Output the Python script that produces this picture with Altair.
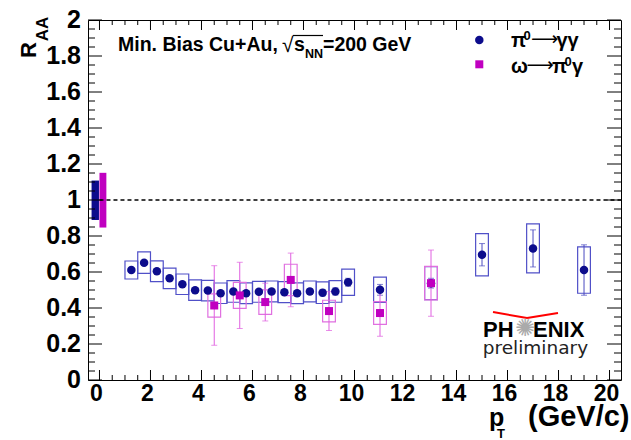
import altair as alt
import pandas as pd

# ---------------- data ----------------
pi0_pt = [1.25, 1.75, 2.25, 2.75, 3.25, 3.75, 4.25, 4.75, 5.25, 5.75, 6.25, 6.75,
          7.25, 7.75, 8.25, 8.75, 9.25, 9.75, 11, 13, 15, 17, 19]
pi0_raa = [0.611, 0.652, 0.604, 0.565, 0.532, 0.499, 0.497, 0.482, 0.492, 0.482, 0.490, 0.492,
           0.488, 0.482, 0.492, 0.485, 0.492, 0.543, 0.501, 0.538, 0.696, 0.731, 0.611]
pi0_stat = [0.008, 0.008, 0.008, 0.008, 0.008, 0.008, 0.009, 0.009, 0.010, 0.010, 0.011, 0.012,
            0.013, 0.014, 0.016, 0.018, 0.020, 0.022, 0.030, 0.027, 0.062, 0.103, 0.140]
pi0_sys = [0.050, 0.060, 0.058, 0.057, 0.057, 0.057, 0.057, 0.057, 0.060, 0.058, 0.058, 0.058,
           0.058, 0.058, 0.058, 0.060, 0.060, 0.073, 0.070, 0.092, 0.117, 0.136, 0.129]

omega_pt = [4.5, 5.5, 6.5, 7.5, 9.0, 11, 13]
omega_raa = [0.414, 0.470, 0.433, 0.556, 0.383, 0.372, 0.538]
omega_stat = [0.221, 0.184, 0.105, 0.149, 0.108, 0.129, 0.184]
omega_sys = [0.065, 0.072, 0.068, 0.087, 0.060, 0.063, 0.093]

bin_half = 0.25

norm_series = ["pi0", "omega"]
norm_x0 = [-0.31, 0.0]
norm_x1 = [-0.02, 0.27]
norm_lo = [0.889, 0.847]
norm_hi = [1.108, 1.151]

x_major = [0, 2, 4, 6, 8, 10, 12, 14, 16, 18, 20]
x_labels = ["0", "2", "4", "6", "8", "10", "12", "14", "16", "18", "20"]
y_major = [0, 0.2, 0.4, 0.6, 0.8, 1, 1.2, 1.4, 1.6, 1.8, 2]
y_labels = ["0", "0.2", "0.4", "0.6", "0.8", "1", "1.2", "1.4", "1.6", "1.8", "2"]
x_minor = [k * 0.5 for k in range(0, 41) if k % 4 != 0]
y_minor = [round(k * 0.05, 2) for k in range(0, 41) if k % 4 != 0]

# ---------------- style ----------------
W, H = 533, 360
FONT = "Liberation Sans"
NAVY = "#0c0c8c"
BLUE_BOX = "#5050c8"
BLUE_ERR = "#4a4ac0"
MAG = "#c000c0"
MAG_BOX = "#e070e0"
MAG_ERR = "#e060e0"

xscale = alt.Scale(domain=[-0.45, 20.45], nice=False, zero=False)
yscale = alt.Scale(domain=[0, 2], nice=False, zero=False)

df_pi0 = pd.DataFrame({"pt": pi0_pt, "raa": pi0_raa, "stat": pi0_stat, "sys": pi0_sys})
df_om = pd.DataFrame({"pt": omega_pt, "raa": omega_raa, "stat": omega_stat, "sys": omega_sys})
for d in (df_pi0, df_om):
    d["lo"] = d["raa"] - d["stat"]
    d["hi"] = d["raa"] + d["stat"]
    d["slo"] = d["raa"] - d["sys"]
    d["shi"] = d["raa"] + d["sys"]
    d["x0"] = d["pt"] - bin_half
    d["x1"] = d["pt"] + bin_half

df_norm = pd.DataFrame({"s": norm_series, "x0": norm_x0, "x1": norm_x1, "lo": norm_lo, "hi": norm_hi})


def X(f):
    return alt.X(f + ":Q", scale=xscale, axis=None)


def Y(f):
    return alt.Y(f + ":Q", scale=yscale, axis=None)


def sysbox(df, col):
    return alt.Chart(df).mark_rect(fillOpacity=0, stroke=col, strokeWidth=1.2).encode(
        x=X("x0"), x2="x1", y=Y("slo"), y2="shi")


def errbars(df, col):
    bar = alt.Chart(df).mark_rule(color=col, strokeWidth=1).encode(x=X("pt"), y=Y("lo"), y2="hi")
    cap1 = alt.Chart(df).mark_tick(color=col, orient="horizontal", size=6, thickness=1).encode(
        x=X("pt"), y=Y("lo"))
    cap2 = alt.Chart(df).mark_tick(color=col, orient="horizontal", size=6, thickness=1).encode(
        x=X("pt"), y=Y("hi"))
    return [bar, cap1, cap2]


norm = alt.Chart(df_norm).mark_rect().encode(
    x=X("x0"), x2="x1", y=Y("lo"), y2="hi",
    color=alt.Color("s:N", scale=alt.Scale(domain=["pi0", "omega"], range=[NAVY, MAG]), legend=None))

dash = alt.Chart(pd.DataFrame({"x": [0], "x2": [20.45], "y": [1]})).mark_rule(
    color="black", strokeDash=[4, 3], strokeWidth=1.3).encode(x=X("x"), x2="x2", y=Y("y"))

pts_pi0 = alt.Chart(df_pi0).mark_point(shape="circle", filled=True, size=72, color=NAVY, opacity=1).encode(
    x=X("pt"), y=Y("raa"))
pts_om = alt.Chart(df_om).mark_point(shape="square", filled=True, size=64, color=MAG, opacity=1).encode(
    x=X("pt"), y=Y("raa"))

# ---------------- ticks (ROOT style, inward) and tick labels ----------------
def yticks(vals, L, side):
    d = pd.DataFrame({"v": vals})
    if side == "left":
        return alt.Chart(d).mark_rule(color="black").encode(y=Y("v"), x=alt.value(0), x2=alt.value(L))
    return alt.Chart(d).mark_rule(color="black").encode(y=Y("v"), x=alt.value(W), x2=alt.value(W - L))


def xticks(vals, L, side):
    d = pd.DataFrame({"v": vals})
    if side == "bottom":
        return alt.Chart(d).mark_rule(color="black").encode(x=X("v"), y=alt.value(H), y2=alt.value(H - L))
    return alt.Chart(d).mark_rule(color="black").encode(x=X("v"), y=alt.value(0), y2=alt.value(L))


ticks = [yticks(y_major, 14, "left"), yticks(y_minor, 7, "left"),
         yticks(y_major, 14, "right"), yticks(y_minor, 7, "right"),
         xticks(x_major, 10, "bottom"), xticks(x_minor, 5, "bottom"),
         xticks(x_major, 10, "top"), xticks(x_minor, 5, "top")]

ylab = alt.Chart(pd.DataFrame({"v": y_major, "t": y_labels})).mark_text(
    align="right", baseline="middle", font=FONT, fontWeight="bold", fontSize=25, color="black").encode(
    y=Y("v"), x=alt.value(-7), text="t:N")
xlab = alt.Chart(pd.DataFrame({"v": x_major, "t": x_labels})).mark_text(
    align="center", baseline="top", font=FONT, fontWeight="bold", fontSize=23, color="black", dx=-3).encode(
    x=X("v"), y=alt.value(H + 3), text="t:N")

# ---------------- text ----------------
one = pd.DataFrame({"a": [0]})


def txt(s, x, y, size, weight="bold", font=FONT, color="black", align="left", baseline="alphabetic", angle=None):
    kw = dict(align=align, baseline=baseline, font=font, fontSize=size, fontWeight=weight, color=color, text=s)
    if angle is not None:
        kw["angle"] = angle
    return alt.Chart(one).mark_text(**kw).encode(x=alt.value(x), y=alt.value(y))


def seg(x1, y1, x2, y2, col, w):
    return alt.Chart(one).mark_rule(color=col, strokeWidth=w).encode(
        x=alt.value(x1), y=alt.value(y1), x2=alt.value(x2), y2=alt.value(y2))


F = 19.5
texts = [
    txt("Min. Bias Cu+Au,", 30, 30.7, F),
    txt("\u221a", 194, 32, 21, weight="normal"),
    seg(205, 15.5, 235, 15.5, "black", 1.2),
    txt("s", 206, 30.7, F),
    txt("NN", 217, 37.5, 12.5),
    txt("=200 GeV", 235, 30.7, F),
    # legend
    alt.Chart(one).mark_point(shape="circle", filled=True, size=72, color=NAVY, opacity=1).encode(
        x=alt.value(391.3), y=alt.value(20)),
    alt.Chart(one).mark_point(shape="square", filled=True, size=64, color=MAG, opacity=1).encode(
        x=alt.value(391.3), y=alt.value(44.3)),
    txt("\u03c0", 423, 26.7, 20),
    txt("0", 435.5, 19.5, 13),
    txt("\u27f6", 443, 25, 19, weight="normal", font="DejaVu Sans"),
    txt("\u03b3\u03b3", 468.5, 26.7, 20),
    txt("\u03c9", 423, 52.7, 20),
    txt("\u27f6", 438.5, 51, 19, weight="normal", font="DejaVu Sans"),
    txt("\u03c0", 464, 52.7, 20),
    txt("0", 476.5, 45.5, 13),
    txt("\u03b3", 484, 52.7, 20),
    # axis titles
    txt("R", -59, 30, 22, align="center", baseline="middle", angle=270),
    txt("AA", -45, 9, 17, align="center", baseline="middle", angle=270),
    txt("p", 401, 406, 25),
    txt("T", 413, 414, 13, align="center", baseline="middle"),
    txt("(GeV/c)", 440, 406, 29),
    # PHENIX logo
    seg(405, 292, 439, 298, "red", 2),
    seg(439, 298, 470, 293, "red", 2),
    txt("PH", 395, 316.7, 22),
    txt("\u273a", 437, 309, 24, weight="normal", font="DejaVu Sans", color="#aaaaaa",
        align="center", baseline="middle"),
    txt("ENIX", 445, 316.7, 22),
    txt("preliminary", 394.7, 334, 18.5, weight="normal", font="DejaVu Sans", color="#222222"),
]

layers = ([sysbox(df_pi0, BLUE_BOX), sysbox(df_om, MAG_BOX), norm, dash]
          + errbars(df_pi0, BLUE_ERR) + errbars(df_om, MAG_ERR)
          + [pts_pi0, pts_om] + ticks + [ylab, xlab] + texts)

chart = alt.layer(*layers).properties(
    width=W, height=H,
    padding={"left": 88, "top": 20, "right": 10, "bottom": 60},
    autosize=alt.AutoSizeParams(type="none"),
    background="white",
).configure_view(stroke="black", strokeWidth=1)

chart.save("out.html", embed_options={"renderer": "svg", "actions": False})
